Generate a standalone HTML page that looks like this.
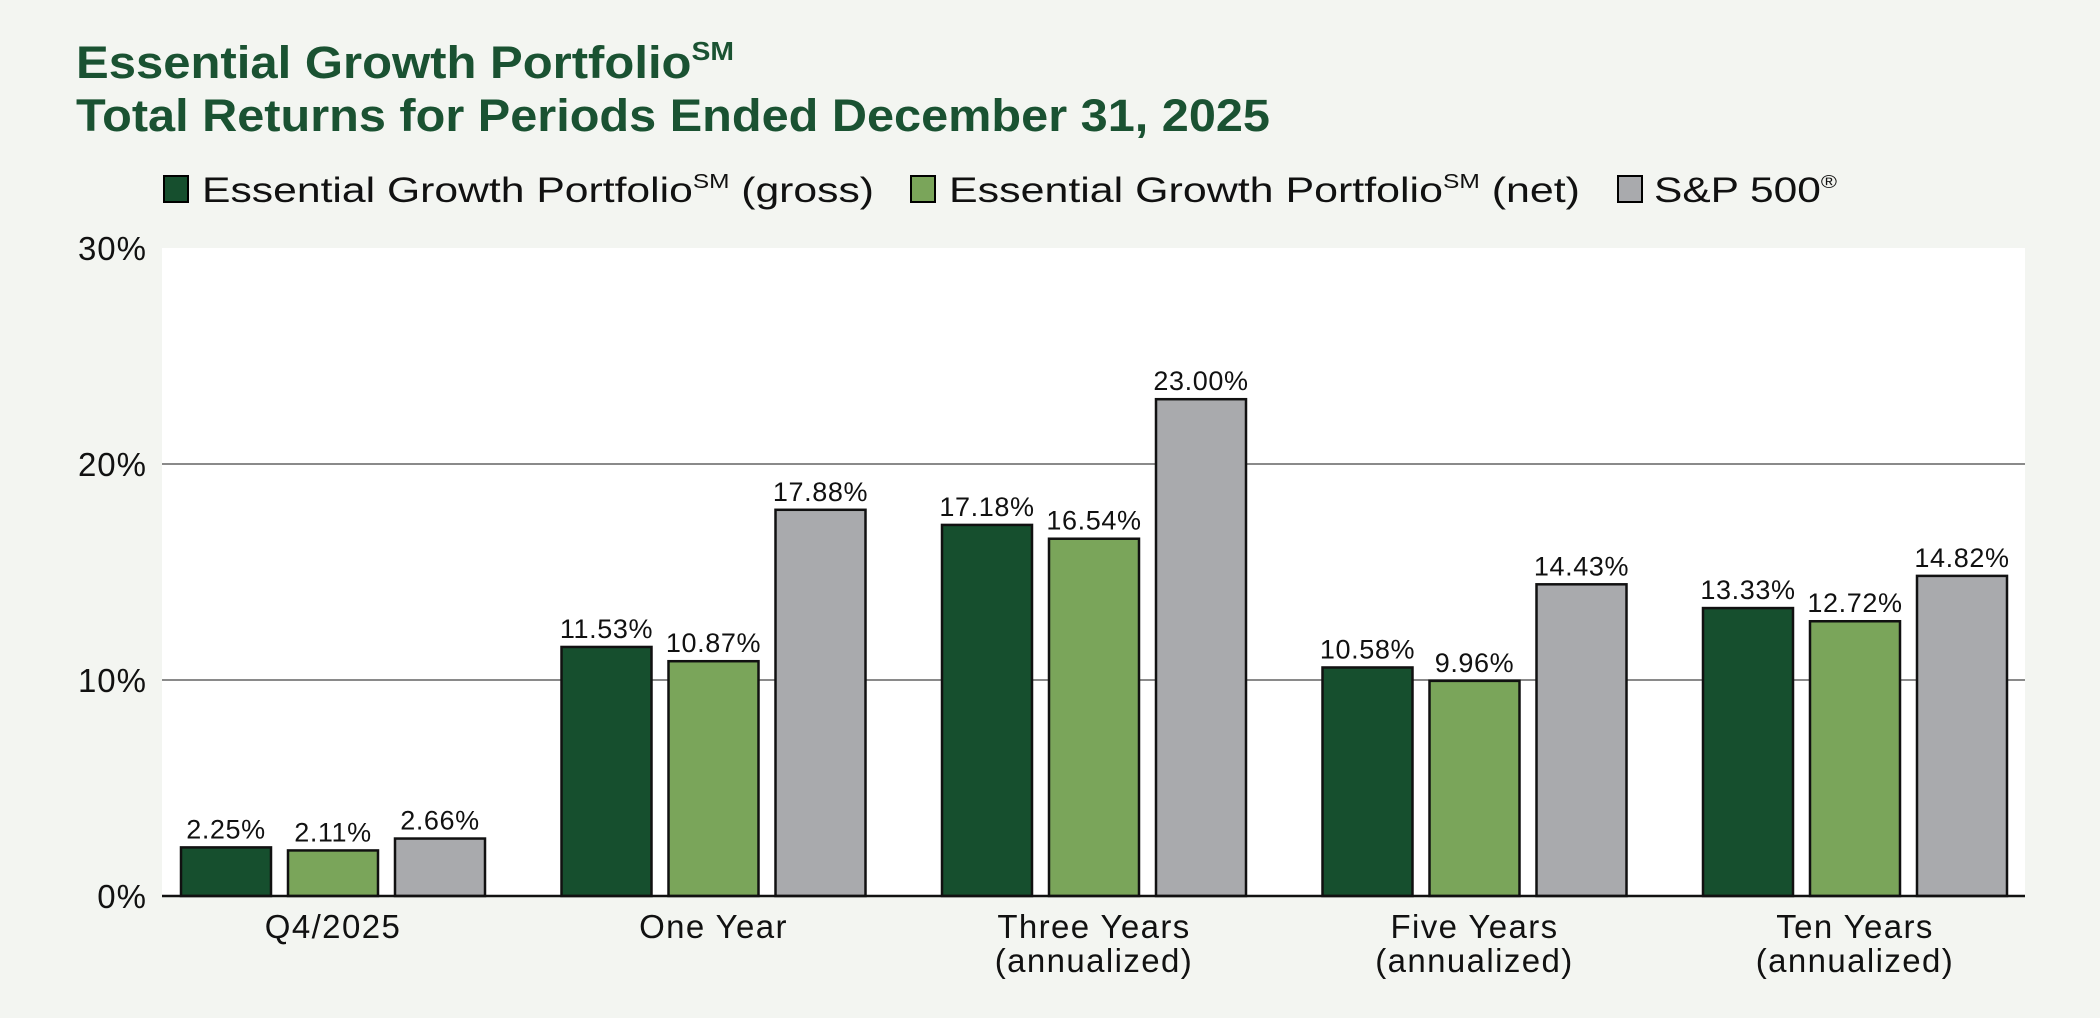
<!DOCTYPE html>
<html><head><meta charset="utf-8">
<style>
html,body{margin:0;padding:0;background:#f3f5f1;}
svg{display:block;font-family:"Liberation Sans",sans-serif;}
</style></head>
<body>
<svg id="chart" width="2100" height="1018" viewBox="0 0 2100 1018" xmlns="http://www.w3.org/2000/svg">
<rect x="0" y="0" width="2100" height="1018" fill="#f3f5f1"/>
<text x="76" y="78" font-size="45" font-weight="bold" fill="#1a5232" textLength="658" lengthAdjust="spacingAndGlyphs">Essential Growth Portfolio<tspan font-size="26" dy="-18">SM</tspan></text>
<text x="76" y="131" font-size="45" font-weight="bold" fill="#1a5232" textLength="1194" lengthAdjust="spacingAndGlyphs">Total Returns for Periods Ended December 31, 2025</text>
<g>
<rect x="164" y="176" width="24" height="26" fill="#164f2e" stroke="#000" stroke-width="2"/>
<text x="202" y="202" font-size="35" fill="#111" textLength="672" lengthAdjust="spacingAndGlyphs">Essential Growth Portfolio<tspan font-size="20" dy="-14">SM</tspan><tspan dy="14"> (gross)</tspan></text>
<rect x="911" y="176" width="24" height="26" fill="#7aa55a" stroke="#000" stroke-width="2"/>
<text x="949" y="202" font-size="35" fill="#111" textLength="631" lengthAdjust="spacingAndGlyphs">Essential Growth Portfolio<tspan font-size="20" dy="-14">SM</tspan><tspan dy="14"> (net)</tspan></text>
<rect x="1618" y="176" width="24" height="26" fill="#a9aaad" stroke="#000" stroke-width="2"/>
<text x="1654" y="202" font-size="35" fill="#111" textLength="183" lengthAdjust="spacingAndGlyphs">S&amp;P 500<tspan font-size="18" dy="-14">®</tspan></text>
</g>
<rect x="162" y="248" width="1863" height="648" fill="#ffffff"/>
<g id="grid"></g>
<g id="bars"></g>
<g id="labels"></g>
</svg>
<script>
const categories = ["Q4/2025", "One Year", "Three Years|(annualized)", "Five Years|(annualized)", "Ten Years|(annualized)"];
const grossValues = [2.25, 11.53, 17.18, 10.58, 13.33];
const netValues = [2.11, 10.87, 16.54, 9.96, 12.72];
const spValues = [2.66, 17.88, 23.00, 14.43, 14.82];
const yTicks = [0, 10, 20, 30];
const yTickLabels = ["0%", "10%", "20%", "30%"];

const NS = "http://www.w3.org/2000/svg";
const plotL = 162, plotR = 2025, plotT = 248, plotB = 896, yMax = 30;
const y = v => plotB - (v / yMax) * (plotB - plotT);
const groupX = i => 181 + i * 380.5;
const barW = 90, barStep = 107;
function mk(tag, attrs, parent) {
  const e = document.createElementNS(NS, tag);
  for (const k in attrs) e.setAttribute(k, attrs[k]);
  parent.appendChild(e);
  return e;
}
const grid = document.getElementById('grid');
yTicks.forEach((t, i) => {
  if (t > 0 && t < yMax) {
    const l = mk('line', {x1: plotL, x2: plotR, y1: y(t), y2: y(t), stroke: '#8a8a8a', 'stroke-width': 2}, grid);
    
    
  }
  const tx = mk('text', {x: 147, y: y(t) + 12, 'font-size': 33, 'text-anchor': 'end', fill: '#111', 'letter-spacing': 1}, grid);
  tx.textContent = yTickLabels[i];
  
  
});
const bars = document.getElementById('bars');
const labels = document.getElementById('labels');
const series = [[grossValues, '#164f2e', 'gross'], [netValues, '#7aa55a', 'net'], [spValues, '#a9aaad', 'sp500']];
categories.forEach((c, i) => {
  series.forEach((s, j) => {
    const v = s[0][i];
    const x = groupX(i) + j * barStep;
    const r = mk('rect', {x: x, y: y(v), width: barW, height: plotB - y(v), fill: s[1], stroke: '#111', 'stroke-width': 2.5}, bars);
    
    
    const t = mk('text', {x: x + barW / 2, y: y(v) - 9, 'font-size': 27, 'text-anchor': 'middle', fill: '#111', 'letter-spacing': 0.6}, labels);
    t.textContent = v.toFixed(2) + '%';
    
    
  });
  const cx = groupX(i) + barStep + barW / 2;
  c.split('|').forEach((line, k) => {
    const t = mk('text', {x: cx, y: 938 + k * 34, 'font-size': 33, 'text-anchor': 'middle', fill: '#111', 'letter-spacing': 1.4}, labels);
    t.textContent = line;
    
    
  });
});
const ax = mk('line', {x1: plotL, x2: plotR, y1: plotB, y2: plotB, stroke: '#111', 'stroke-width': 2.5}, bars);


</script>
</body></html>
